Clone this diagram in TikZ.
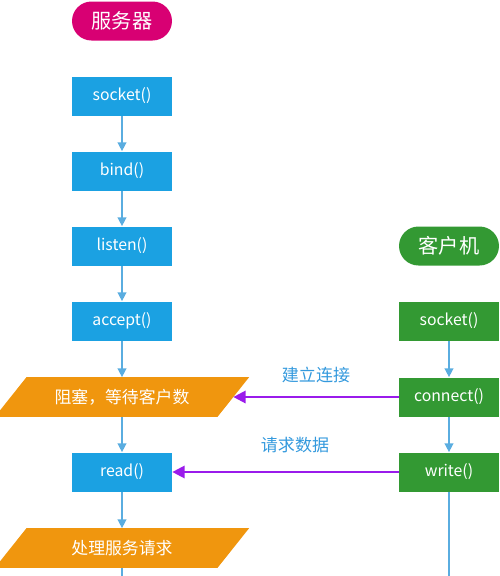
\documentclass[tikz,border=0pt]{standalone}
\usepackage{fontspec}
\setmainfont{Noto Sans CJK SC}
\usetikzlibrary{arrows.meta,backgrounds}
\definecolor{boxblue}{HTML}{1BA1E2}
\definecolor{boxorange}{HTML}{F0960E}
\definecolor{boxgreen}{HTML}{339933}
\definecolor{pillred}{HTML}{D80073}
\definecolor{linkblue}{HTML}{5AADE0}
\definecolor{msgpurple}{HTML}{9A1BEB}
\definecolor{labelblue}{HTML}{3399DD}

\begin{document}
\begin{tikzpicture}[x=0.02cm,y=-0.02cm]
      \useasboundingbox (0,0) rectangle (500,576);
      \begin{scope}[every node/.style={minimum width=2cm,minimum height=0.78cm,inner sep=0pt,text=white,font=\fontsize{9}{11}\selectfont}]
        \node[fill=pillred,rounded corners=0.39cm,font=\fontsize{11.5}{13}\selectfont] (server) at (122,21) {服务器};
        \node[fill=boxblue] (ssocket) at (122,96) {socket()};
        \node[fill=boxblue] (bind) at (122,171) {bind()};
        \node[fill=boxblue] (listen) at (122,246) {listen()};
        \node[fill=boxblue] (accept) at (122,321) {accept()};
        \node[minimum width=4.44cm,font=\fontsize{9.6}{11}\selectfont] (wait) at (122,397) {阻塞，等待客户数};
        \node[fill=boxblue] (read) at (122,472) {read()};
        \node[minimum width=4.44cm,font=\fontsize{9.6}{11}\selectfont] (handle) at (122,548) {处理服务请求};
        \node[fill=boxgreen,rounded corners=0.39cm,font=\fontsize{11.5}{13}\selectfont] (client) at (449,246) {客户机};
        \node[fill=boxgreen] (csocket) at (449,321) {socket()};
        \node[fill=boxgreen] (connect) at (449,397) {connect()};
        \node[fill=boxgreen] (write) at (449,472) {write()};
      \end{scope}
      % slanted boxes
      \begin{scope}[on background layer]
        \foreach \n in {wait,handle}
          \fill[boxorange] ([xshift=-9]\n.south west) -- ([xshift=9]\n.north west)
            -- ([xshift=9]\n.north east) -- ([xshift=-9]\n.south east) -- cycle;
      \end{scope}
      \coordinate (sbottom) at (122,576);
      \coordinate (cbottom) at (449,576);
      \node[text=labelblue,font=\fontsize{9.7}{11}\selectfont] (connlabel) at (316,375) {建立连接};
      \node[text=labelblue,font=\fontsize{9.7}{11}\selectfont] (reqlabel) at (295,445) {请求数据};
      \begin{scope}[every edge/.style={draw,linkblue,thick,-{Triangle[length=5pt,width=5pt]}}]
        \path (ssocket) edge (bind);
        \path (bind) edge (listen);
        \path (listen) edge (accept);
        \path (accept) edge (wait);
        \path (wait) edge (read);
        \path (read) edge (handle);
        \path (csocket) edge (connect);
        \path (connect) edge (write);
        \path (handle) edge[-] (sbottom);
        \path (write) edge[-] (cbottom);
      \end{scope}
      \begin{scope}[every edge/.style={draw,msgpurple,line width=1.3pt,-{Triangle[length=7pt,width=7pt]}}]
        \path (connect) edge (wait);
        \path (write) edge (read);
      \end{scope}
    \end{tikzpicture}
\end{document}
